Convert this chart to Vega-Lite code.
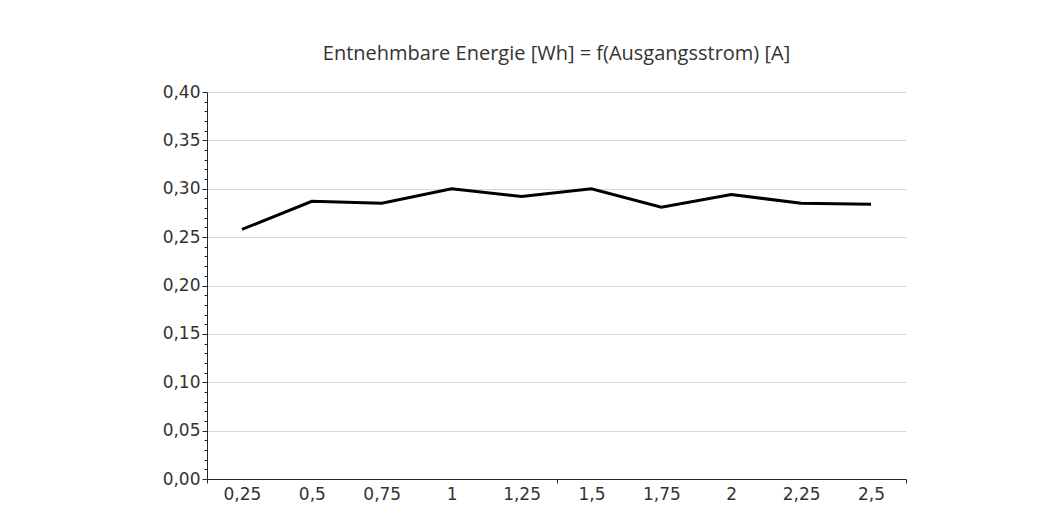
{
  "$schema": "https://vega.github.io/schema/vega-lite/v6.json",
  "width": 699,
  "height": 387,
  "autosize": {"type": "none"},
  "padding": {"left": 207, "top": 92, "right": 147, "bottom": 53},
  "background": "white",
  "title": {
    "text": "Entnehmbare Energie [Wh] = f(Ausgangsstrom) [A]",
    "anchor": "middle",
    "font": "Open Sans",
    "fontSize": 20,
    "fontWeight": "normal",
    "color": "#333333",
    "baseline": "alphabetic",
    "offset": 3
  },
  "config": {
    "view": {"stroke": null},
    "axis": {"labelFont": "DejaVu Sans", "labelColor": "#333333", "labelFontSize": 17, "domainColor": "#262626", "tickColor": "#262626", "titleFont": "Open Sans"}
  },
  "data": {
    "values": [
      {"strom": 0.25, "energie": 0.258},
      {"strom": 0.5, "energie": 0.287},
      {"strom": 0.75, "energie": 0.285},
      {"strom": 1.0, "energie": 0.300},
      {"strom": 1.25, "energie": 0.292},
      {"strom": 1.5, "energie": 0.300},
      {"strom": 1.75, "energie": 0.281},
      {"strom": 2.0, "energie": 0.294},
      {"strom": 2.25, "energie": 0.285},
      {"strom": 2.5, "energie": 0.284}
    ]
  },
  "mark": {"type": "line", "color": "#000000", "strokeWidth": 3, "strokeCap": "butt", "strokeJoin": "miter"},
  "encoding": {
    "x": {
      "field": "strom",
      "type": "quantitative",
      "scale": {"domain": [0.125, 2.625], "nice": false, "zero": false},
      "axis": {
        "title": null,
        "grid": false,
        "values": [0.125, 0.25, 0.5, 0.75, 1, 1.25, 1.375, 1.5, 1.75, 2, 2.25, 2.5, 2.625],
        "labelExpr": "(datum.value*4) % 1 != 0 ? '' : replace(format(datum.value, '.2~f'), '.', ',')",
        "labelOverlap": false,
        "labelBound": false,
        "labelFlush": false,
        "labelDx": 4,
        "tickSize": 4,
        "tickOpacity": {"condition": {"test": "(datum.value*4) % 1 != 0", "value": 1}, "value": 0},
        "labelPadding": 3
      }
    },
    "y": {
      "field": "energie",
      "type": "quantitative",
      "scale": {"domain": [0, 0.4], "nice": false, "zero": true},
      "axis": {
        "title": null,
        "values": [0, 0.01, 0.02, 0.03, 0.04, 0.05, 0.06, 0.07, 0.08, 0.09, 0.1, 0.11, 0.12, 0.13, 0.14, 0.15, 0.16, 0.17, 0.18, 0.19, 0.2, 0.21, 0.22, 0.23, 0.24, 0.25, 0.26, 0.27, 0.28, 0.29, 0.3, 0.31, 0.32, 0.33, 0.34, 0.35, 0.36, 0.37, 0.38, 0.39, 0.4],
        "labelExpr": "round(datum.value*100) % 5 != 0 ? '' : replace(format(datum.value, '.2f'), '.', ',')",
        "labelOverlap": false,
        "labelBound": false,
        "labelFlush": false,
        "labelPadding": 2,
        "grid": true,
        "gridColor": "#d9d9d9",
        "gridOpacity": {"condition": {"test": "round(datum.value*100) % 5 == 0 && datum.value > 0", "value": 1}, "value": 0},
        "tickSize": {"condition": {"test": "round(datum.value*100) % 5 == 0", "value": 5}, "value": 3}
      }
    }
  }
}
